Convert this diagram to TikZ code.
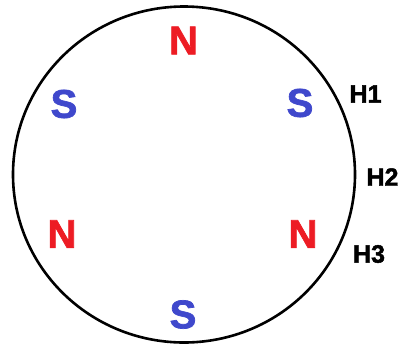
\documentclass[tikz,border=0pt]{standalone}
\usepackage{fontspec}
\setmainfont{Liberation Sans}
\newfontfamily\heavyfont[BoldFeatures={FakeBold=1.8}]{Liberation Sans}
\usetikzlibrary{positioning}
\definecolor{pnorth}{RGB}{237,28,36}
\definecolor{psouth}{RGB}{63,72,204}

\begin{document}
\begin{tikzpicture}[x=1pt, y=-1pt,
          pole/.style={inner sep=0pt,font=\heavyfont\fontsize{40}{40}\selectfont\bfseries},
          north/.style={pole,text=pnorth},
          south/.style={pole,text=psouth},
          hall/.style={inner sep=0pt,font=\heavyfont\fontsize{25}{25}\selectfont\bfseries}
      ]
        \useasboundingbox (0,0) rectangle (404,346);
        \draw[line width=2.6pt] (184,174.5) ellipse [x radius=171, y radius=168];
        % rotor poles
        \node[north] (n1) at (183.5,40.5) {N};
        \node[south] (s1) at (300,103)    {S};
        \node[north] (n2) at (303,234)    {N};
        \node[south] (s2) at (183,314.5)  {S};
        \node[north] (n3) at (62,234)     {N};
        \node[south] (s3) at (64,104)     {S};
        % hall sensors
        \node[hall] (h1) at (365.5,94)  {H1};
        \node[hall] (h2) at (382.5,177) {H2};
        \node[hall] (h3) at (369,254)   {H3};
      \end{tikzpicture}
\end{document}
